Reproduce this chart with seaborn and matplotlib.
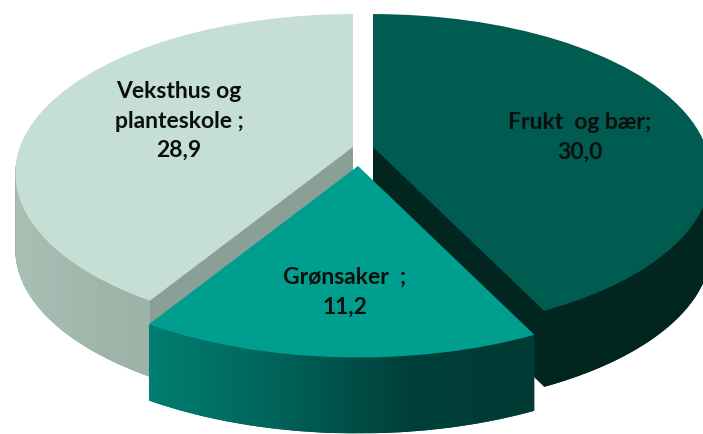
import matplotlib

matplotlib.use("Agg")
import matplotlib.pyplot as plt
import numpy as np
import seaborn as sns
from matplotlib.colors import LinearSegmentedColormap
from matplotlib.patches import PathPatch
from matplotlib.path import Path
from matplotlib.transforms import Affine2D, Transform

labels = ["Frukt  og bær;\n30,0", "Grønsaker  ;\n11,2", "Veksthus og\nplanteskole ;\n28,9"]
values = [30.0, 11.2, 28.9]

top_colors = ["#005b50", "#009e8f", "#c6dfd4"]
cut_colors = ["#00261f", "#00564d", "#8a9f95"]
rim_colors = [
    ["#00261f", "#00261f"],
    ["#007f72", "#006359", "#00403a", "#003a35"],
    ["#a9c0b5", "#a3bbb0", "#a0b5aa", "#9db2a8"],
]

# where each slice tip sits in the picture, its size, and how it is layered
tips = [(373, 148), (358, 167), (353, 148)]
scales = [1.0, 1.03, 1.0]
label_pos = [(580, 137), (345, 292), (179, 121)]
draw_order = [2, 0, 1]
depth = 76


class Perspective(Transform):
    input_dims = 2
    output_dims = 2
    has_inverse = False

    def __init__(self, a=333, b=155, k=0.166):
        super().__init__()
        self.a, self.b, self.k = a, b, k

    def transform_non_affine(self, values):
        x, y = values[:, 0], values[:, 1]
        w = 1 + self.k * y
        return np.column_stack((self.a * x / w, -self.b * y / w))


sns.set_theme(style="white")
plt.rcParams["font.family"] = ["Lato", "DejaVu Sans"]

fig = plt.figure(figsize=(7.03, 4.35), dpi=100)
ax = fig.add_axes([0, 0, 1, 1])
persp = Perspective()

# slice angles, same as the ones pie uses
edges = 90 - 360 * np.concatenate(([0], np.cumsum(values))) / np.sum(values)

for order, i in enumerate(draw_order):
    base = order * 3 + 1
    place = Affine2D().scale(scales[i]).translate(*tips[i])

    # side of the slice is a pile of copies going down
    for step in range(depth, 0, -1):
        wedges, _ = ax.pie(values, colors=cut_colors, startangle=90, counterclock=False)
        for j, w in enumerate(wedges):
            if j != i:
                w.remove()
                continue
            w.set_edgecolor("none")
            w.set_zorder(base)
            w.set_transform(persp + place + Affine2D().translate(0, step) + ax.transData)

    # outer rim with its shading, only up to the widest point of the ellipse
    theta = np.radians(np.linspace(edges[i], edges[i + 1], 120))
    theta = theta[np.sin(theta) < -persp.k]
    rim = place.transform(persp.transform(np.column_stack((np.cos(theta), np.sin(theta)))))
    poly = np.vstack((rim, rim[::-1] + [0, depth]))
    clip = PathPatch(Path(np.vstack((poly, poly[0])), closed=True), transform=ax.transData, fc="none", ec="none")
    ax.add_patch(clip)
    cmap = LinearSegmentedColormap.from_list("rim", rim_colors[i])
    img = ax.imshow(
        np.linspace(0, 1, 256)[None, :],
        cmap=cmap,
        extent=(poly[:, 0].min(), poly[:, 0].max(), poly[:, 1].max(), poly[:, 1].min()),
        aspect="auto",
        zorder=base + 1,
    )
    img.set_clip_path(clip)

    wedges, _ = ax.pie(values, colors=top_colors, startangle=90, counterclock=False)
    for j, w in enumerate(wedges):
        if j != i:
            w.remove()
            continue
        w.set_edgecolor("none")
        w.set_zorder(base + 2)
        w.set_transform(persp + place + ax.transData)

for text, (x, y) in zip(labels, label_pos):
    ax.text(x, y, text, ha="center", va="center", fontsize=16.5, fontweight="bold",
            color="#0a0f0e", linespacing=1.5, zorder=20)

ax.set_aspect("auto")
ax.set_xlim(0, 703)
ax.set_ylim(435, 0)
ax.axis("off")

fig.savefig("out.png", dpi=100, facecolor="white")
